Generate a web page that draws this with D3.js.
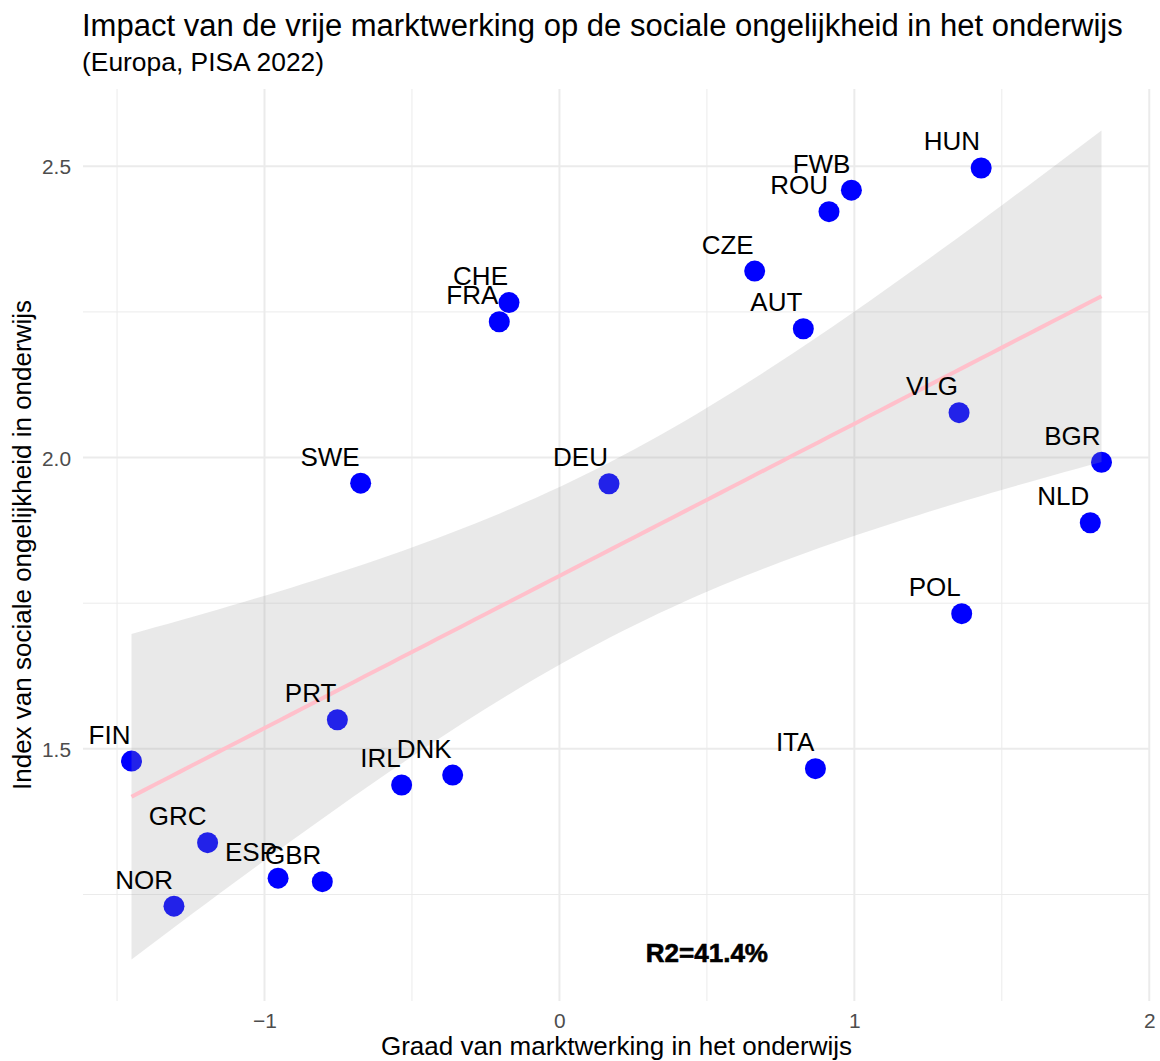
<!DOCTYPE html>
<html>
<head>
<meta charset="utf-8">
<script src="https://cdn.jsdelivr.net/npm/d3@7"></script>
<style>
  html, body { margin: 0; padding: 0; background: #fff; }
  svg { display: block; font-family: "Liberation Sans", Arial, Helvetica, sans-serif; }
</style>
</head>
<body>
<svg id="chart" width="1160" height="1061"></svg>
<script>
// ---- data ----
const countries = ["HUN","FWB","ROU","CZE","AUT","CHE","FRA","SWE","DEU","VLG","BGR","NLD","POL","PRT","IRL","DNK","ITA","FIN","GRC","ESP","GBR","NOR"];
const marketValues = [1.430, 0.990, 0.914, 0.662, 0.827, -0.171, -0.204, -0.674, 0.168, 1.355, 1.838, 1.800, 1.364, -0.753, -0.535, -0.362, 0.868, -1.451, -1.193, -0.954, -0.804, -1.307];
const inequalityValues = [2.497, 2.459, 2.422, 2.320, 2.221, 2.266, 2.233, 1.956, 1.955, 2.077, 1.992, 1.888, 1.732, 1.550, 1.438, 1.455, 1.466, 1.479, 1.339, 1.278, 1.272, 1.230];
const xTicksMajor = [-1, 0, 1, 2];
const xTicksMinor = [-1.5, -0.5, 0.5, 1.5];
const yTicksMajor = [1.5, 2.0, 2.5];
const yTicksMinor = [1.25, 1.75, 2.25];
const titleText = "Impact van de vrije marktwerking op de sociale ongelijkheid in het onderwijs";
const subtitleText = "(Europa, PISA 2022)";
const xTitle = "Graad van marktwerking in het onderwijs";
const yTitle = "Index van sociale ongelijkheid in onderwijs";
const r2Label = "R2=41.4%";
const r2Pos = [0.5, 1.15];

// ---- regression (lm with 95% CI) ----
const n = marketValues.length;
const mx = d3.mean(marketValues), my = d3.mean(inequalityValues);
let sxx = 0, sxy = 0;
for (let i = 0; i < n; i++) { sxx += (marketValues[i]-mx)**2; sxy += (marketValues[i]-mx)*(inequalityValues[i]-my); }
const slope = sxy / sxx, intercept = my - slope * mx;
let sse = 0;
for (let i = 0; i < n; i++) { sse += (inequalityValues[i] - (intercept + slope*marketValues[i]))**2; }
const sigma = Math.sqrt(sse / (n - 2));
const tcrit = 2.086; // t(0.975, df=20)
const xmin = d3.min(marketValues), xmax = d3.max(marketValues);
const band = d3.range(80).map(i => {
  const x = xmin + (xmax - xmin) * i / 79;
  const fit = intercept + slope * x;
  const se = sigma * Math.sqrt(1/n + (x-mx)**2 / sxx);
  return {x, fit, lo: fit - tcrit*se, hi: fit + tcrit*se};
});

// ---- layout ----
const panel = {left: 83, right: 1150, top: 89, bottom: 1001};
const xr = xmax - xmin;
const x = d3.scaleLinear().domain([xmin - 0.05*xr, xmax + 0.05*xr]).range([panel.left, panel.right]);
const ylo = Math.min(d3.min(band, d => d.lo), d3.min(inequalityValues));
const yhi = Math.max(d3.max(band, d => d.hi), d3.max(inequalityValues));
const yr = yhi - ylo;
const y = d3.scaleLinear().domain([ylo - 0.05*yr, yhi + 0.05*yr]).range([panel.bottom, panel.top]);

const svg = d3.select("#chart");
svg.append("rect").attr("width", 1160).attr("height", 1061).attr("fill", "#fff");

// grid
const grid = svg.append("g");
grid.selectAll(".vmin").data(xTicksMinor).join("line")
  .attr("x1", d => x(d)).attr("x2", d => x(d)).attr("y1", panel.top).attr("y2", panel.bottom)
  .attr("stroke", "#ebebeb").attr("stroke-width", 1);
grid.selectAll(".hmin").data(yTicksMinor).join("line")
  .attr("y1", d => y(d)).attr("y2", d => y(d)).attr("x1", panel.left).attr("x2", panel.right)
  .attr("stroke", "#ebebeb").attr("stroke-width", 1);
grid.selectAll(".vmaj").data(xTicksMajor).join("line")
  .attr("x1", d => x(d)).attr("x2", d => x(d)).attr("y1", panel.top).attr("y2", panel.bottom)
  .attr("stroke", "#ebebeb").attr("stroke-width", 2);
grid.selectAll(".hmaj").data(yTicksMajor).join("line")
  .attr("y1", d => y(d)).attr("y2", d => y(d)).attr("x1", panel.left).attr("x2", panel.right)
  .attr("stroke", "#ebebeb").attr("stroke-width", 2);

// axes (labels only)
const fmtX = d => d < 0 ? "\u2212" + Math.abs(d) : String(d);
const gx = svg.append("g").attr("transform", `translate(0,${panel.bottom})`)
  .call(d3.axisBottom(x).tickValues(xTicksMajor).tickFormat(fmtX).tickSize(0).tickPadding(0));
gx.select(".domain").remove();
gx.selectAll("text").attr("font-size", 20.9).attr("fill", "#4d4d4d")
  .attr("font-family", "Liberation Sans, Arial, sans-serif")
  .attr("dy", null).attr("y", 27);
const gy = svg.append("g").attr("transform", `translate(${panel.left},0)`)
  .call(d3.axisLeft(y).tickValues(yTicksMajor).tickFormat(d3.format(".1f")).tickSize(0).tickPadding(0));
gy.select(".domain").remove();
gy.selectAll("text").attr("font-size", 20.9).attr("fill", "#4d4d4d")
  .attr("font-family", "Liberation Sans, Arial, sans-serif")
  .attr("x", -12).attr("dy", "0.36em");

// points
const data = countries.map((c, i) => ({c, x: marketValues[i], y: inequalityValues[i]}));
svg.append("g").selectAll("circle").data(data).join("circle")
  .attr("cx", d => x(d.x)).attr("cy", d => y(d.y)).attr("r", 10.5).attr("fill", "#0000ff");

// band
const area = d3.area().x(d => x(d.x)).y0(d => y(d.lo)).y1(d => y(d.hi));
svg.append("path").datum(band).attr("d", area).attr("fill", "#999999").attr("fill-opacity", 0.22);
const line = d3.line().x(d => x(d.x)).y(d => y(d.fit));
svg.append("path").datum(band).attr("d", line).attr("fill", "none").attr("stroke", "#ffc0cb").attr("stroke-width", 4);

// labels
svg.append("g").selectAll("text").data(data).join("text")
  .attr("x", d => x(d.x) - 1).attr("y", d => y(d.y) - 17.5)
  .attr("text-anchor", "end").attr("font-size", 26).attr("fill", "#000")
  .text(d => d.c);

// R2 annotation
svg.append("text").attr("x", x(r2Pos[0])).attr("y", y(r2Pos[1])).attr("dy", "0.36em")
  .attr("text-anchor", "middle").attr("font-size", 26).attr("font-weight", "bold")
  .attr("fill", "#000").attr("stroke", "#000").attr("stroke-width", 0.6)
  .text(r2Label);

// titles
svg.append("text").attr("x", 82).attr("y", 36).attr("font-size", 31).attr("fill", "#000").text(titleText);
svg.append("text").attr("x", 82).attr("y", 71).attr("font-size", 26.4).attr("fill", "#000").text(subtitleText);
svg.append("text").attr("x", (panel.left + panel.right)/2).attr("y", 1055).attr("text-anchor", "middle")
  .attr("font-size", 26).attr("fill", "#000").text(xTitle);
svg.append("text").attr("transform", `translate(31,${(panel.top + panel.bottom)/2}) rotate(-90)`)
  .attr("text-anchor", "middle").attr("font-size", 26).attr("fill", "#000").text(yTitle);
</script>
</body>
</html>
